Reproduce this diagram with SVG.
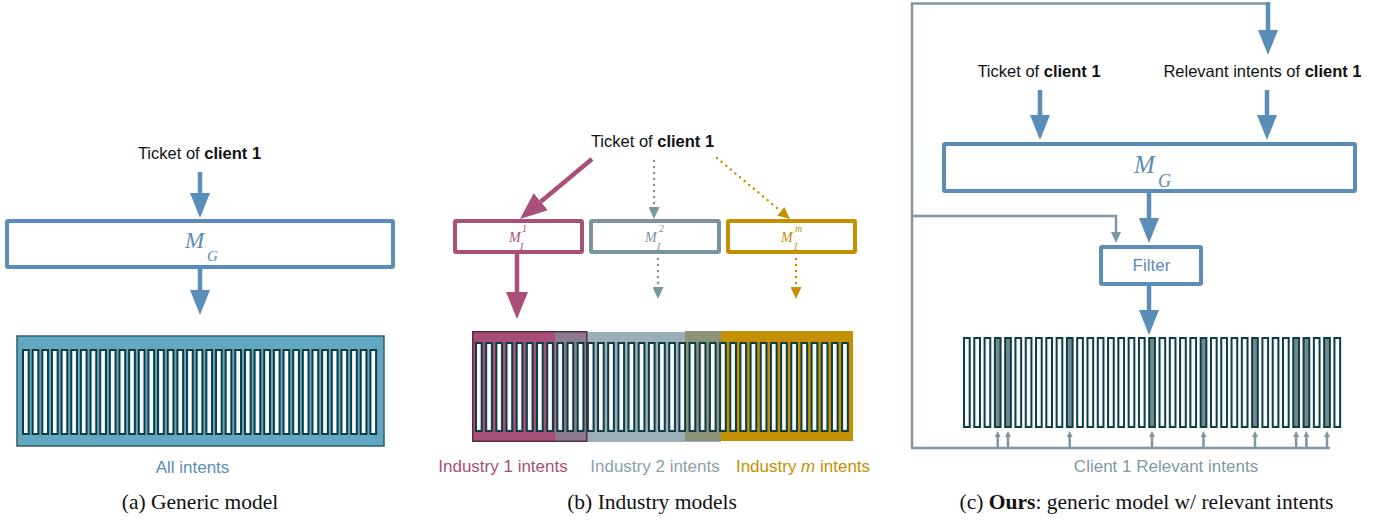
<svg xmlns="http://www.w3.org/2000/svg" width="1393" height="523" viewBox="0 0 1393 523">
<style>
.sans{font-family:"Liberation Sans",Arial,sans-serif}
.tk{font-size:16.5px;fill:#111}
.b{font-weight:bold}
.lbl{font-size:17px}
.cap{font-family:"Liberation Serif","Times New Roman",serif;font-size:21.5px;fill:#111}
.math{font-family:"Liberation Serif","Times New Roman",serif;font-style:italic}
.box{fill:#fff;stroke-width:4}
.blue{stroke:#5b8db9}
.slot{fill:#f6f9f9;stroke:#0e3d45;stroke-width:2}
.slotd{fill:#6f8b92;stroke:#0e3d45;stroke-width:2}
.thick{stroke-width:4.5;fill:none}
.dot{stroke-width:2.5;fill:none;stroke-dasharray:0 6;stroke-linecap:round}
.thin{stroke:#7f97a5;stroke-width:2.5;fill:none}
</style>
<defs>
<marker id="hb" markerUnits="userSpaceOnUse" viewBox="0 0 25 20" refX="0" refY="10" markerWidth="25" markerHeight="20" orient="auto"><path d="M0,0L25,10L0,20z" fill="#5b8db9"/></marker>
<marker id="hp" markerUnits="userSpaceOnUse" viewBox="0 0 27 22" refX="0" refY="11" markerWidth="27" markerHeight="22" orient="auto"><path d="M0,0L27,11L0,22z" fill="#a84f7a"/></marker>
<marker id="hg" markerUnits="userSpaceOnUse" viewBox="0 0 12 11" refX="0" refY="5.5" markerWidth="12" markerHeight="11" orient="auto"><path d="M0,0L12,5.5L0,11z" fill="#7b939e"/></marker>
<marker id="hy" markerUnits="userSpaceOnUse" viewBox="0 0 12 11" refX="0" refY="5.5" markerWidth="12" markerHeight="11" orient="auto"><path d="M0,0L12,5.5L0,11z" fill="#c49000"/></marker>
<marker id="hs" markerUnits="userSpaceOnUse" viewBox="0 0 11 10" refX="0" refY="5" markerWidth="11" markerHeight="10" orient="auto"><path d="M0,0L11,5L0,10z" fill="#7f97a5"/></marker>
<marker id="hu" markerUnits="userSpaceOnUse" viewBox="0 0 6 6" refX="0" refY="3" markerWidth="6" markerHeight="6" orient="auto"><path d="M0,0L6,3L0,6z" fill="#7f97a5"/></marker>
</defs>

<!-- Panel (a) -->
<g id="a-ticket"><text class="sans tk" x="199.5" y="159" text-anchor="middle">Ticket of <tspan class="b">client 1</tspan></text></g>
<g id="a-mg">
<rect class="box blue" x="7" y="221" width="386" height="46" rx="1"/>
<text class="math" x="185" y="248" font-size="23" fill="#5b8db9">M</text>
<text class="math" x="207" y="261" font-size="15" fill="#5b8db9">G</text>
</g>
<g id="a-intents">
<rect x="17" y="336" width="367" height="110" fill="#62a8c2" stroke="#2e5f6c" stroke-width="1.5"/>
<rect class="slot" x="23.0" y="350" width="5.7" height="84"/><rect class="slot" x="32.65" y="350" width="5.7" height="84"/><rect class="slot" x="42.3" y="350" width="5.7" height="84"/><rect class="slot" x="51.95" y="350" width="5.7" height="84"/><rect class="slot" x="61.6" y="350" width="5.7" height="84"/><rect class="slot" x="71.25" y="350" width="5.7" height="84"/><rect class="slot" x="80.9" y="350" width="5.7" height="84"/><rect class="slot" x="90.55" y="350" width="5.7" height="84"/><rect class="slot" x="100.2" y="350" width="5.7" height="84"/><rect class="slot" x="109.85" y="350" width="5.7" height="84"/><rect class="slot" x="119.5" y="350" width="5.7" height="84"/><rect class="slot" x="129.15" y="350" width="5.7" height="84"/><rect class="slot" x="138.8" y="350" width="5.7" height="84"/><rect class="slot" x="148.45" y="350" width="5.7" height="84"/><rect class="slot" x="158.1" y="350" width="5.7" height="84"/><rect class="slot" x="167.75" y="350" width="5.7" height="84"/><rect class="slot" x="177.4" y="350" width="5.7" height="84"/><rect class="slot" x="187.05" y="350" width="5.7" height="84"/><rect class="slot" x="196.7" y="350" width="5.7" height="84"/><rect class="slot" x="206.35" y="350" width="5.7" height="84"/><rect class="slot" x="216.0" y="350" width="5.7" height="84"/><rect class="slot" x="225.65" y="350" width="5.7" height="84"/><rect class="slot" x="235.3" y="350" width="5.7" height="84"/><rect class="slot" x="244.95" y="350" width="5.7" height="84"/><rect class="slot" x="254.6" y="350" width="5.7" height="84"/><rect class="slot" x="264.25" y="350" width="5.7" height="84"/><rect class="slot" x="273.9" y="350" width="5.7" height="84"/><rect class="slot" x="283.55" y="350" width="5.7" height="84"/><rect class="slot" x="293.2" y="350" width="5.7" height="84"/><rect class="slot" x="302.85" y="350" width="5.7" height="84"/><rect class="slot" x="312.5" y="350" width="5.7" height="84"/><rect class="slot" x="322.15" y="350" width="5.7" height="84"/><rect class="slot" x="331.8" y="350" width="5.7" height="84"/><rect class="slot" x="341.45" y="350" width="5.7" height="84"/><rect class="slot" x="351.1" y="350" width="5.7" height="84"/><rect class="slot" x="360.75" y="350" width="5.7" height="84"/><rect class="slot" x="370.4" y="350" width="5.7" height="84"/>
</g>
<g id="a-label"><text class="sans lbl" x="192.5" y="473" text-anchor="middle" fill="#5b8db9">All intents</text></g>
<g id="a-caption"><text class="cap" x="200" y="509" text-anchor="middle">(a) Generic model</text></g>

<!-- Panel (b) -->
<g id="b-ticket"><text class="sans tk" x="652.5" y="147" text-anchor="middle">Ticket of <tspan class="b">client 1</tspan></text></g>
<g id="b-m1">
<rect class="box" stroke="#a84f7a" x="455" y="221" width="127" height="31" rx="1"/>
<text class="math" x="509" y="242" font-size="14" fill="#a84f7a">M</text>
<text class="math" x="522" y="232" font-size="10" fill="#a84f7a">1</text>
<text class="math" x="520" y="250" font-size="10" fill="#a84f7a">I</text>
</g>
<g id="b-m2">
<rect class="box" stroke="#7b939e" x="591" y="221" width="128" height="31" rx="1"/>
<text class="math" x="645" y="242" font-size="14" fill="#7b939e">M</text>
<text class="math" x="659" y="232" font-size="10" fill="#7b939e">2</text>
<text class="math" x="657" y="250" font-size="10" fill="#7b939e">I</text>
</g>
<g id="b-mm">
<rect class="box" stroke="#c49000" x="728" y="221" width="127" height="31" rx="1"/>
<text class="math" x="781" y="242" font-size="14" fill="#c49000">M</text>
<text class="math" x="795" y="232" font-size="10" fill="#c49000">m</text>
<text class="math" x="794" y="250" font-size="10" fill="#c49000">I</text>
</g>
<g id="b-intents">
<rect x="555" y="332" width="166" height="110" fill="#9aafb8"/>
<rect x="472" y="331" width="115" height="111" fill="#a84f78"/>
<rect x="555" y="332" width="32" height="109" fill="#8a7b8e"/>
<rect x="721" y="331" width="132" height="110" fill="#c48f00"/>
<rect x="685" y="331" width="36" height="110" fill="#8d9378"/>
<rect x="472.75" y="331.75" width="114" height="109.5" fill="none" stroke="#5e2b45" stroke-width="1.5"/>
<rect class="slot" x="476.0" y="343" width="5.7" height="88"/><rect class="slot" x="486.17" y="343" width="5.7" height="88"/><rect class="slot" x="496.34" y="343" width="5.7" height="88"/><rect class="slot" x="506.51" y="343" width="5.7" height="88"/><rect class="slot" x="516.68" y="343" width="5.7" height="88"/><rect class="slot" x="526.85" y="343" width="5.7" height="88"/><rect class="slot" x="537.02" y="343" width="5.7" height="88"/><rect class="slot" x="547.19" y="343" width="5.7" height="88"/><rect class="slot" x="557.36" y="343" width="5.7" height="88"/><rect class="slot" x="567.53" y="343" width="5.7" height="88"/><rect class="slot" x="577.7" y="343" width="5.7" height="88"/><rect class="slot" x="587.87" y="343" width="5.7" height="88"/><rect class="slot" x="598.04" y="343" width="5.7" height="88"/><rect class="slot" x="608.21" y="343" width="5.7" height="88"/><rect class="slot" x="618.38" y="343" width="5.7" height="88"/><rect class="slot" x="628.55" y="343" width="5.7" height="88"/><rect class="slot" x="638.72" y="343" width="5.7" height="88"/><rect class="slot" x="648.89" y="343" width="5.7" height="88"/><rect class="slot" x="659.06" y="343" width="5.7" height="88"/><rect class="slot" x="669.23" y="343" width="5.7" height="88"/><rect class="slot" x="679.4" y="343" width="5.7" height="88"/><rect class="slot" x="689.57" y="343" width="5.7" height="88"/><rect class="slot" x="699.74" y="343" width="5.7" height="88"/><rect class="slot" x="709.91" y="343" width="5.7" height="88"/><rect class="slot" x="720.08" y="343" width="5.7" height="88"/><rect class="slot" x="730.25" y="343" width="5.7" height="88"/><rect class="slot" x="740.42" y="343" width="5.7" height="88"/><rect class="slot" x="750.59" y="343" width="5.7" height="88"/><rect class="slot" x="760.76" y="343" width="5.7" height="88"/><rect class="slot" x="770.93" y="343" width="5.7" height="88"/><rect class="slot" x="781.1" y="343" width="5.7" height="88"/><rect class="slot" x="791.27" y="343" width="5.7" height="88"/><rect class="slot" x="801.44" y="343" width="5.7" height="88"/><rect class="slot" x="811.61" y="343" width="5.7" height="88"/><rect class="slot" x="821.78" y="343" width="5.7" height="88"/><rect class="slot" x="831.95" y="343" width="5.7" height="88"/><rect class="slot" x="842.12" y="343" width="5.7" height="88"/>
</g>
<g id="b-labels">
<text class="sans lbl" x="503" y="472" text-anchor="middle" fill="#a84f7a">Industry 1 intents</text>
<text class="sans lbl" x="655" y="472" text-anchor="middle" fill="#8aa0aa">Industry 2 intents</text>
<text class="sans lbl" x="803" y="472" text-anchor="middle" fill="#c49000">Industry <tspan font-style="italic">m</tspan> intents</text>
</g>
<g id="b-caption"><text class="cap" x="652" y="509" text-anchor="middle">(b) Industry models</text></g>

<!-- Panel (c) -->
<g id="c-ticket"><text class="sans tk" x="1039" y="77" text-anchor="middle">Ticket of <tspan class="b">client 1</tspan></text></g>
<g id="c-relevant"><text class="sans tk" x="1262.5" y="77" text-anchor="middle">Relevant intents of <tspan class="b">client 1</tspan></text></g>
<g id="c-mg">
<rect class="box blue" x="944" y="144" width="411" height="47" rx="1"/>
<text class="math" x="1134" y="173" font-size="25" fill="#5b8db9">M</text>
<text class="math" x="1158" y="187" font-size="18" fill="#5b8db9">G</text>
</g>
<g id="c-filter">
<rect class="box blue" x="1101" y="247" width="100" height="37" rx="1"/>
<text class="sans" x="1151.5" y="271" text-anchor="middle" font-size="17" fill="#5b8db9">Filter</text>
</g>
<g id="c-intents">
<rect class="slot" x="964.0" y="338" width="5.7" height="89"/><rect class="slot" x="974.29" y="338" width="5.7" height="89"/><rect class="slot" x="984.58" y="338" width="5.7" height="89"/><rect class="slotd" x="994.87" y="338" width="5.7" height="89"/><rect class="slotd" x="1005.16" y="338" width="5.7" height="89"/><rect class="slot" x="1015.45" y="338" width="5.7" height="89"/><rect class="slot" x="1025.74" y="338" width="5.7" height="89"/><rect class="slot" x="1036.03" y="338" width="5.7" height="89"/><rect class="slot" x="1046.32" y="338" width="5.7" height="89"/><rect class="slot" x="1056.61" y="338" width="5.7" height="89"/><rect class="slotd" x="1066.9" y="338" width="5.7" height="89"/><rect class="slot" x="1077.19" y="338" width="5.7" height="89"/><rect class="slot" x="1087.48" y="338" width="5.7" height="89"/><rect class="slot" x="1097.77" y="338" width="5.7" height="89"/><rect class="slot" x="1108.06" y="338" width="5.7" height="89"/><rect class="slot" x="1118.35" y="338" width="5.7" height="89"/><rect class="slot" x="1128.64" y="338" width="5.7" height="89"/><rect class="slot" x="1138.93" y="338" width="5.7" height="89"/><rect class="slotd" x="1149.22" y="338" width="5.7" height="89"/><rect class="slot" x="1159.51" y="338" width="5.7" height="89"/><rect class="slot" x="1169.8" y="338" width="5.7" height="89"/><rect class="slot" x="1180.09" y="338" width="5.7" height="89"/><rect class="slot" x="1190.38" y="338" width="5.7" height="89"/><rect class="slotd" x="1200.67" y="338" width="5.7" height="89"/><rect class="slot" x="1210.96" y="338" width="5.7" height="89"/><rect class="slot" x="1221.25" y="338" width="5.7" height="89"/><rect class="slot" x="1231.54" y="338" width="5.7" height="89"/><rect class="slot" x="1241.83" y="338" width="5.7" height="89"/><rect class="slotd" x="1252.12" y="338" width="5.7" height="89"/><rect class="slot" x="1262.41" y="338" width="5.7" height="89"/><rect class="slot" x="1272.7" y="338" width="5.7" height="89"/><rect class="slot" x="1282.99" y="338" width="5.7" height="89"/><rect class="slotd" x="1293.28" y="338" width="5.7" height="89"/><rect class="slotd" x="1303.57" y="338" width="5.7" height="89"/><rect class="slot" x="1313.86" y="338" width="5.7" height="89"/><rect class="slotd" x="1324.15" y="338" width="5.7" height="89"/><rect class="slot" x="1334.44" y="338" width="5.7" height="89"/>
</g>
<g id="c-label"><text class="sans lbl" x="1166" y="472" text-anchor="middle" fill="#7f97a5">Client 1 Relevant intents</text></g>
<g id="c-caption"><text class="cap" x="1146.5" y="509" text-anchor="middle">(c) <tspan font-weight="bold">Ours</tspan>: generic model w/ relevant intents</text></g>

<g id="connectors">
<line class="thick blue" x1="200" y1="172" x2="200" y2="193" marker-end="url(#hb)"/>
<line class="thick blue" x1="200" y1="269" x2="200" y2="290" marker-end="url(#hb)"/>
<line class="thick" stroke="#a84f7a" x1="592" y1="159" x2="540.7" y2="201.7" marker-end="url(#hp)"/>
<line class="dot" stroke="#7b939e" x1="654" y1="161" x2="654" y2="207" marker-end="url(#hg)"/>
<line class="dot" stroke="#c49000" x1="717" y1="158" x2="780.8" y2="211.3" marker-end="url(#hy)"/>
<line class="thick" stroke="#a84f7a" x1="517" y1="254" x2="517" y2="292" marker-end="url(#hp)"/>
<line class="dot" stroke="#7b939e" x1="658" y1="259" x2="658" y2="287" marker-end="url(#hg)"/>
<line class="dot" stroke="#c49000" x1="796" y1="259" x2="796" y2="287" marker-end="url(#hy)"/>
<path class="thin" d="M912,448L912,3.5L1268,3.5"/>
<line class="thick blue" x1="1268" y1="2" x2="1268" y2="30" marker-end="url(#hb)"/>
<line class="thick blue" x1="1040" y1="90" x2="1040" y2="115" marker-end="url(#hb)"/>
<line class="thick blue" x1="1267" y1="90" x2="1267" y2="115" marker-end="url(#hb)"/>
<line class="thick blue" x1="1149" y1="193" x2="1149" y2="218" marker-end="url(#hb)"/>
<path class="thin" d="M912,216L1116,216L1116,232" marker-end="url(#hs)"/>
<line class="thick blue" x1="1149" y1="286" x2="1149" y2="310" marker-end="url(#hb)"/>
<path class="thin" d="M911,448L1330,448"/>
<g class="thin" stroke-width="2">
<line x1="997.7" y1="448" x2="997.7" y2="437" marker-end="url(#hu)"/>
<line x1="1008" y1="448" x2="1008" y2="437" marker-end="url(#hu)"/>
<line x1="1069.7" y1="448" x2="1069.7" y2="437" marker-end="url(#hu)"/>
<line x1="1152" y1="448" x2="1152" y2="437" marker-end="url(#hu)"/>
<line x1="1203.5" y1="448" x2="1203.5" y2="437" marker-end="url(#hu)"/>
<line x1="1255" y1="448" x2="1255" y2="437" marker-end="url(#hu)"/>
<line x1="1296.1" y1="448" x2="1296.1" y2="437" marker-end="url(#hu)"/>
<line x1="1306.4" y1="448" x2="1306.4" y2="437" marker-end="url(#hu)"/>
<line x1="1327" y1="448" x2="1327" y2="437" marker-end="url(#hu)"/>
</g>
</g>
</svg>
